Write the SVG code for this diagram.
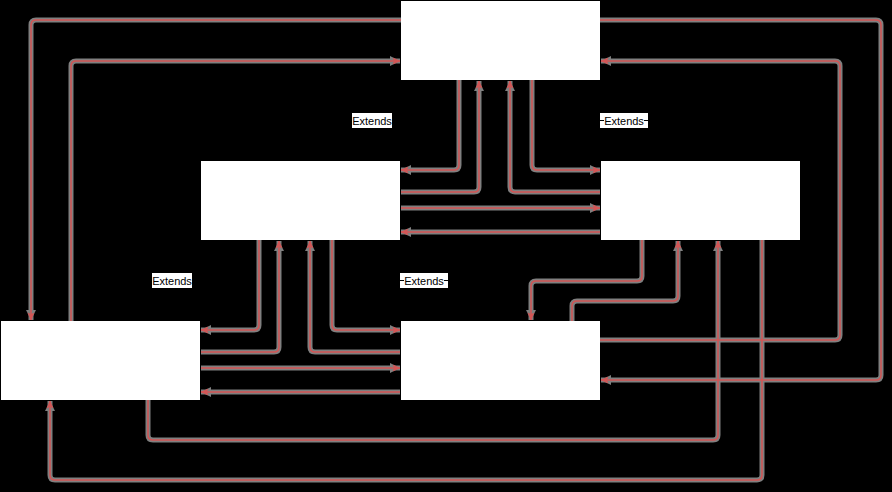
<svg xmlns="http://www.w3.org/2000/svg" xmlns:xlink="http://www.w3.org/1999/xlink" width="892" height="492" viewBox="0 0 892 492">
<style>
.node{fill:#ffffff;stroke:none}
.sh{fill:none;stroke:#7f7f7f;stroke-width:5;stroke-linejoin:miter;marker-end:url(#ag)}
.ln{fill:none;stroke:#d45555;stroke-width:1.5;stroke-linejoin:round;marker-end:url(#ar)}
.lbl{fill:#ffffff}
.txt{font-family:"Liberation Sans",Arial,sans-serif;font-size:11px;fill:#000000;text-anchor:middle}
.dash{stroke:#000000;stroke-width:1}
</style>
<defs>
<marker id="ar" viewBox="0 0 10 10" refX="9" refY="5" markerWidth="10" markerHeight="10" markerUnits="userSpaceOnUse" orient="auto">
<path d="M2,2 L9,5 L2,8 L3.5,5 Z" fill="#d45555" stroke="#d45555" stroke-width="0.5"/>
</marker>
<marker id="ag" viewBox="0 0 12 12" refX="10" refY="6" markerWidth="12" markerHeight="12" markerUnits="userSpaceOnUse" orient="auto">
<path d="M0,1 L10,6 L0,11 Z" fill="#7f7f7f"/>
</marker>
<path id="e1" d="M459,80 V165 Q459,170 454,170 H401"/>
<path id="e2" d="M401,192 H474 Q479,192 479,187 V81"/>
<path id="e3" d="M600,192 H515 Q510,192 510,187 V81"/>
<path id="e4" d="M532,80 V165 Q532,170 537,170 H600"/>
<path id="e5" d="M401,208 H600"/>
<path id="e6" d="M600,232 H401"/>
<path id="e7" d="M259,240 V325 Q259,330 254,330 H201"/>
<path id="e8" d="M201,352 H274 Q279,352 279,347 V241"/>
<path id="e9" d="M400,352 H315 Q310,352 310,347 V241"/>
<path id="e10" d="M332,240 V325 Q332,330 337,330 H400"/>
<path id="e11" d="M201,368 H400"/>
<path id="e12" d="M400,392 H201"/>
<path id="e13" d="M642,240 V276 Q642,281 637,281 H536 Q531,281 531,286 V320"/>
<path id="e14" d="M572,321 V306 Q572,301 577,301 H673 Q678,301 678,296 V241"/>
<path id="e15" d="M148,400 V435 Q148,440 153,440 H713 Q718,440 718,435 V241"/>
<path id="e16" d="M762,240 V475 Q762,480 757,480 H55 Q50,480 50,475 V401"/>
<path id="e17" d="M401,20 H36 Q31,20 31,25 V320"/>
<path id="e18" d="M71,321 V66 Q71,61 76,61 H400"/>
<path id="e19" d="M600,20 H876 Q881,20 881,25 V375 Q881,380 876,380 H601"/>
<path id="e20" d="M600,340 H835 Q840,340 840,335 V66 Q840,61 835,61 H601"/>
</defs>
<rect x="0" y="0" width="892" height="492" fill="#000000"/>
<g id="connectors">
<g id="shadows">
<use xlink:href="#e1" class="sh"/><use xlink:href="#e2" class="sh"/><use xlink:href="#e3" class="sh"/><use xlink:href="#e4" class="sh"/>
<use xlink:href="#e5" class="sh"/><use xlink:href="#e6" class="sh"/><use xlink:href="#e7" class="sh"/><use xlink:href="#e8" class="sh"/>
<use xlink:href="#e9" class="sh"/><use xlink:href="#e10" class="sh"/><use xlink:href="#e11" class="sh"/><use xlink:href="#e12" class="sh"/>
<use xlink:href="#e13" class="sh"/><use xlink:href="#e14" class="sh"/><use xlink:href="#e15" class="sh"/><use xlink:href="#e16" class="sh"/>
<use xlink:href="#e17" class="sh"/><use xlink:href="#e18" class="sh"/><use xlink:href="#e19" class="sh"/><use xlink:href="#e20" class="sh"/>
</g>
<g id="lines">
<use xlink:href="#e1" class="ln"/><use xlink:href="#e2" class="ln"/><use xlink:href="#e3" class="ln"/><use xlink:href="#e4" class="ln"/>
<use xlink:href="#e5" class="ln"/><use xlink:href="#e6" class="ln"/><use xlink:href="#e7" class="ln"/><use xlink:href="#e8" class="ln"/>
<use xlink:href="#e9" class="ln"/><use xlink:href="#e10" class="ln"/><use xlink:href="#e11" class="ln"/><use xlink:href="#e12" class="ln"/>
<use xlink:href="#e13" class="ln"/><use xlink:href="#e14" class="ln"/><use xlink:href="#e15" class="ln"/><use xlink:href="#e16" class="ln"/>
<use xlink:href="#e17" class="ln"/><use xlink:href="#e18" class="ln"/><use xlink:href="#e19" class="ln"/><use xlink:href="#e20" class="ln"/>
</g>
<g id="labels">
<g id="lbl1"><rect class="lbl" x="352" y="113" width="40" height="15"/><text class="txt" x="372" y="124.5">Extends</text></g>
<g id="lbl2"><rect class="lbl" x="600" y="113" width="48" height="15"/><line class="dash" x1="600" y1="120.5" x2="604" y2="120.5"/><line class="dash" x1="644" y1="120.5" x2="648" y2="120.5"/><text class="txt" x="624" y="124.5">Extends</text></g>
<g id="lbl3"><rect class="lbl" x="152" y="273" width="40" height="15"/><text class="txt" x="172" y="284.5">Extends</text></g>
<g id="lbl4"><rect class="lbl" x="400" y="273" width="48" height="15"/><line class="dash" x1="400" y1="280.5" x2="404" y2="280.5"/><line class="dash" x1="444" y1="280.5" x2="448" y2="280.5"/><text class="txt" x="424" y="284.5">Extends</text></g>
</g>
</g>
<g id="node-top"><rect class="node" x="401" y="1" width="199" height="79"/></g>
<g id="node-mid-left"><rect class="node" x="201" y="161" width="199" height="79"/></g>
<g id="node-mid-right"><rect class="node" x="601" y="161" width="199" height="79"/></g>
<g id="node-bottom-left"><rect class="node" x="1" y="321" width="199" height="79"/></g>
<g id="node-bottom-mid"><rect class="node" x="401" y="321" width="199" height="79"/></g>
</svg>
